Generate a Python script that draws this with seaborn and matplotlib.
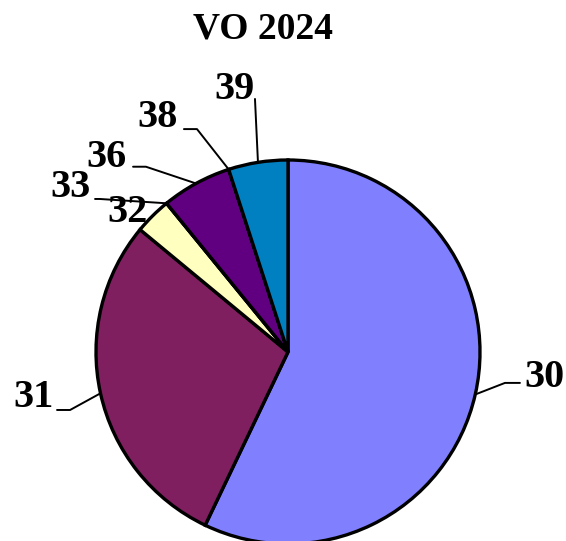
import numpy as np
import matplotlib
matplotlib.use("Agg")
import matplotlib.pyplot as plt
import seaborn as sns

# data (share of the pie, %)
labels = ["30", "31", "32", "33", "36", "38", "39"]
values = [57.1, 28.9, 3.1, 0.0, 5.9, 0.0, 5.0]
colors = ["#8080FF", "#7F1F5F", "#FFFFC0", "#C0FFFF", "#600080", "#FF8080", "#0080C0"]
title = "VO 2024"

# label layout (axes data units, pie radius = 1): text position, leader elbow points
label_pos = {
    "30": (1.335, -0.135), "31": (-1.325, -0.235), "32": (-0.835, 0.725),
    "33": (-1.135, 0.855), "36": (-0.945, 1.015), "38": (-0.680, 1.220),
    "39": (-0.280, 1.365),
}
leader_pts = {
    "30": [(1.208, -0.161), (1.130, -0.161)],
    "31": [(-1.203, -0.302), (-1.135, -0.302)],
    "33": [(-1.005, 0.797), (-0.980, 0.797)],
    "36": [(-0.807, 0.965), (-0.740, 0.965)],
    "38": [(-0.542, 1.161), (-0.474, 1.161)],
    "39": [(-0.172, 1.318)],
}

sns.set_theme(style="white")
plt.rcParams["font.family"] = ["Liberation Serif", "DejaVu Serif"]

W, H = 566, 541
fig = plt.figure(figsize=(W / 100, H / 100), dpi=100)
fig.patch.set_facecolor("white")

# pie axes: centre (288, 352) px, radius 192 px
cx, cy, r = 288, 352, 192
ax = fig.add_axes([(cx - r) / W, (H - cy - r) / H, 2 * r / W, 2 * r / H])
ax.axis("off")

wedges, _ = ax.pie(values, colors=colors, startangle=90, counterclock=False,
                   radius=1, wedgeprops=dict(edgecolor="black", linewidth=2.4),
                   normalize=True)
ax.set_xlim(-1, 1)
ax.set_ylim(-1, 1)
ax.set_aspect("auto")
for w in wedges:
    w.set_clip_on(False)

for lab, w in zip(labels, wedges):
    mid = np.deg2rad((w.theta1 + w.theta2) / 2)
    anchor = (np.cos(mid), np.sin(mid))
    if lab in leader_pts:
        pts = leader_pts[lab] + [anchor]
        xs, ys = zip(*pts)
        ax.plot(xs, ys, color="black", lw=1.4, clip_on=False, zorder=3)
    tx, ty = label_pos[lab]
    ax.text(tx, ty, lab, ha="center", va="center", fontsize=29,
            fontweight="bold", color="black", clip_on=False, zorder=4)

fig.text(263 / W, 1 - 29 / H, title, ha="center", va="center",
         fontsize=27, fontweight="bold", color="black")

fig.savefig("out.png", dpi=100)
